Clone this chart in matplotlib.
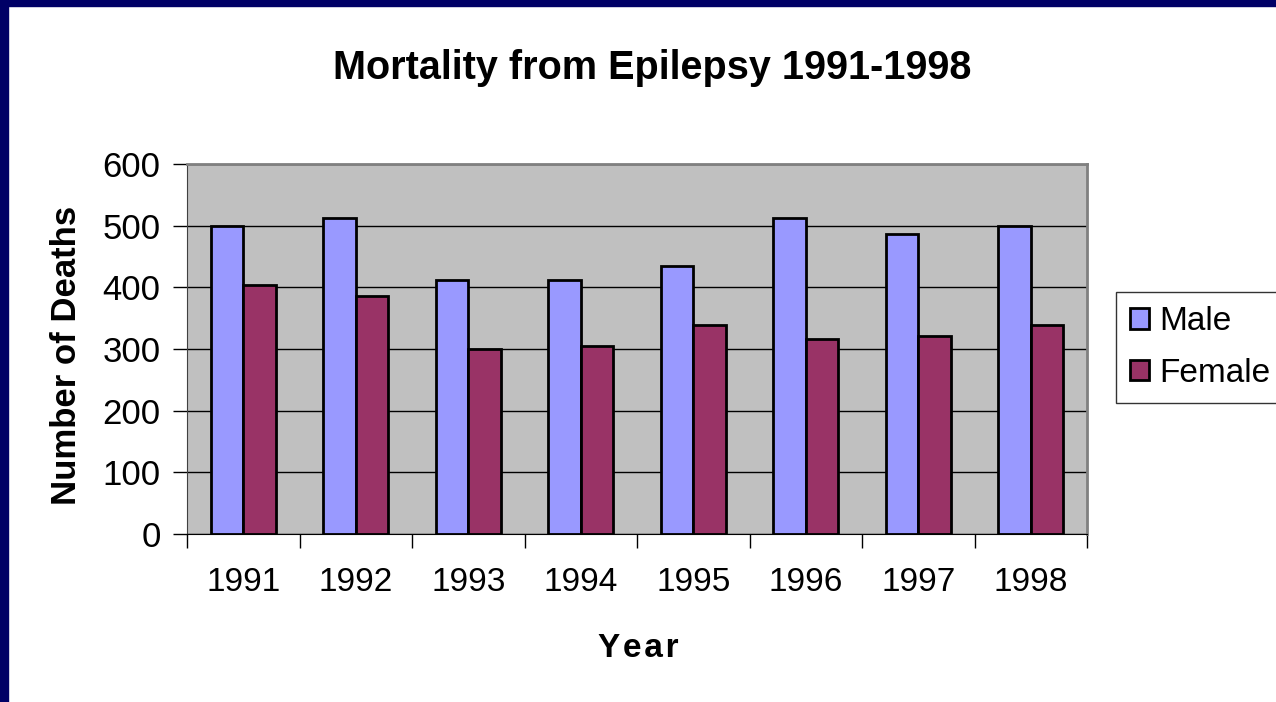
import matplotlib
matplotlib.use("Agg")
import matplotlib.pyplot as plt
import numpy as np
from matplotlib.patches import Rectangle

years = ["1991", "1992", "1993", "1994", "1995", "1996", "1997", "1998"]
male = [500, 512, 412, 412, 435, 512, 486, 500]
female = [404, 386, 300, 305, 339, 316, 321, 339]
yticks = [0, 100, 200, 300, 400, 500, 600]

plt.rcParams['font.family'] = ['Liberation Sans', 'DejaVu Sans']

W, H = 1276, 702
fig = plt.figure(figsize=(W / 100, H / 100), dpi=100)
fig.patch.set_facecolor('white')

# navy frame (left and top)
fig.add_artist(Rectangle((0, 0), 8 / W, 1, transform=fig.transFigure, color='#000066', zorder=0))
fig.add_artist(Rectangle((0, 1 - 6 / H), 1, 6 / H, transform=fig.transFigure, color='#000066', zorder=0))

left, right, top, bottom = 187, 1087, 164, 534
ax = fig.add_axes([left / W, 1 - bottom / H, (right - left) / W, (bottom - top) / H])
ax.set_facecolor('#c0c0c0')

x = np.arange(len(years))
bw = 0.29
ax.bar(x - bw / 2, male, bw, color='#9999ff', edgecolor='black', linewidth=2, label='Male', zorder=3)
ax.bar(x + bw / 2, female, bw, color='#993366', edgecolor='black', linewidth=2, label='Female', zorder=3)

ax.set_xlim(-0.5, len(years) - 0.5)
ax.set_ylim(0, 600)
ax.set_yticks(yticks)
ax.set_yticklabels([str(v) for v in yticks], fontsize=25)
ax.yaxis.grid(True, color='black', linewidth=1, zorder=1)
ax.set_axisbelow(True)

ax.set_xticks(np.arange(len(years) + 1) - 0.5)
ax.set_xticklabels([])
ax.set_xticks(x, minor=True)
ax.set_xticklabels(years, minor=True, fontsize=24)
ax.tick_params(axis='x', which='major', length=10, width=1, direction='out')
ax.tick_params(axis='x', which='minor', length=0, pad=24)
ax.tick_params(axis='y', length=10, width=1, direction='out', pad=9)

for s in ['top', 'right']:
    ax.spines[s].set_color('#808080')
    ax.spines[s].set_linewidth(2)
ax.spines['left'].set_color('#404040')
ax.spines['bottom'].set_color('black')

fig.text(67 / W, 1 - 355 / H, 'Number of Deaths', rotation=90, ha='center', va='center',
         fontsize=25, fontweight='bold')
fig.text(638 / W, 1 - 657 / H, 'Y\u200ae\u200aa\u200ar', ha='center', va='baseline',
         fontsize=24, fontweight='bold')

fig.text(652 / W, 1 - 79 / H, 'Mortality from Epilepsy 1991-1998', ha='center', va='baseline',
         fontsize=28.5, fontweight='bold')

leg = fig.legend(loc='upper left', bbox_to_anchor=(1116 / W, 1 - 292 / H), fontsize=24,
                 frameon=True, fancybox=False, edgecolor='black', handlelength=0.58,
                 handleheight=0.58, handletextpad=0.3, borderpad=0.42, labelspacing=0.62,
                 borderaxespad=0)
leg.get_frame().set_linewidth(1)

fig.savefig('out.png', dpi=100)
